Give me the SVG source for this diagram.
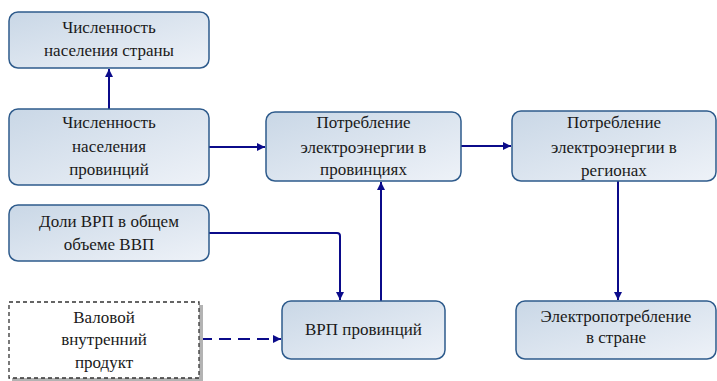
<svg xmlns="http://www.w3.org/2000/svg" width="717" height="381" viewBox="0 0 717 381">
<defs>
<linearGradient id="g" x1="0" y1="0" x2="1" y2="1">
<stop offset="0" stop-color="#c9d7e6"/>
<stop offset="1" stop-color="#eef2f8"/>
</linearGradient>
<marker id="ah" viewBox="0 0 10 10" refX="10" refY="5" markerWidth="9" markerHeight="8" markerUnits="userSpaceOnUse" orient="auto">
<path d="M0,0 L10,5 L0,10 z" fill="#0b0b8a"/>
</marker>
</defs>
<style>
.box{fill:url(#g);stroke:#2e5b8c;stroke-width:1.5}
.dash{fill:#ffffff;stroke:#333;stroke-width:1.3;stroke-dasharray:4,3}
.sh{fill:#b3b3b3}
.t{fill:#1a1a1a;text-anchor:middle}
.c{fill:none;stroke:#0b0b8a;stroke-width:2;marker-end:url(#ah)}
</style>
<g id="connectors">
<path class="c" d="M109,109 L109,69"/>
<path class="c" d="M209,147 L265,147"/>
<path class="c" d="M461,146 L511,146"/>
<path class="c" d="M209,233 L337,233 Q340,233 340,236 L340,300"/>
<path class="c" d="M381,301 L381,182"/>
<path class="c" d="M618,181 L618,300"/>
<path class="c" d="M200,339 L281,339" stroke-dasharray="12,7"/>
</g>
<g font-family="Times New Roman, Liberation Serif, serif" font-size="17px">
<g id="n1"><rect class="box" x="9" y="12" width="200" height="56" rx="9"/><text class="t" x="109" y="33">Численность</text><text class="t" x="109" y="56">населения страны</text></g>
<g id="n2"><rect class="box" x="9" y="109" width="200" height="76" rx="9"/><text class="t" x="109" y="128">Численность</text><text class="t" x="109" y="152">населения</text><text class="t" x="109" y="175">провинций</text></g>
<g id="n3"><rect class="box" x="266" y="112" width="195" height="69" rx="9"/><text class="t" x="363.5" y="128">Потребление</text><text class="t" x="363.5" y="153">электроэнергии в</text><text class="t" x="363.5" y="175">провинциях</text></g>
<g id="n4"><rect class="box" x="512" y="111" width="204" height="70" rx="9"/><text class="t" x="614" y="128">Потребление</text><text class="t" x="614" y="153">электроэнергии в</text><text class="t" x="614" y="176">регионах</text></g>
<g id="n5"><rect class="box" x="9" y="205" width="200" height="56" rx="9"/><text class="t" x="109" y="227">Доли ВРП в общем</text><text class="t" x="109" y="250">объеме ВВП</text></g>
<g id="n6"><rect class="box" x="282" y="301" width="163" height="58" rx="9"/><text class="t" x="363.5" y="335">ВРП провинций</text></g>
<g id="n7"><rect class="sh" x="12" y="305" width="191" height="76"/><rect class="dash" x="9" y="302" width="190" height="76"/><text class="t" x="104" y="323">Валовой</text><text class="t" x="104" y="345">внутренний</text><text class="t" x="104" y="368">продукт</text></g>
<g id="n8"><rect class="box" x="516" y="301" width="200" height="58" rx="9"/><text class="t" x="616" y="322">Электропотребление</text><text class="t" x="616" y="343">в стране</text></g>
</g>
</svg>
